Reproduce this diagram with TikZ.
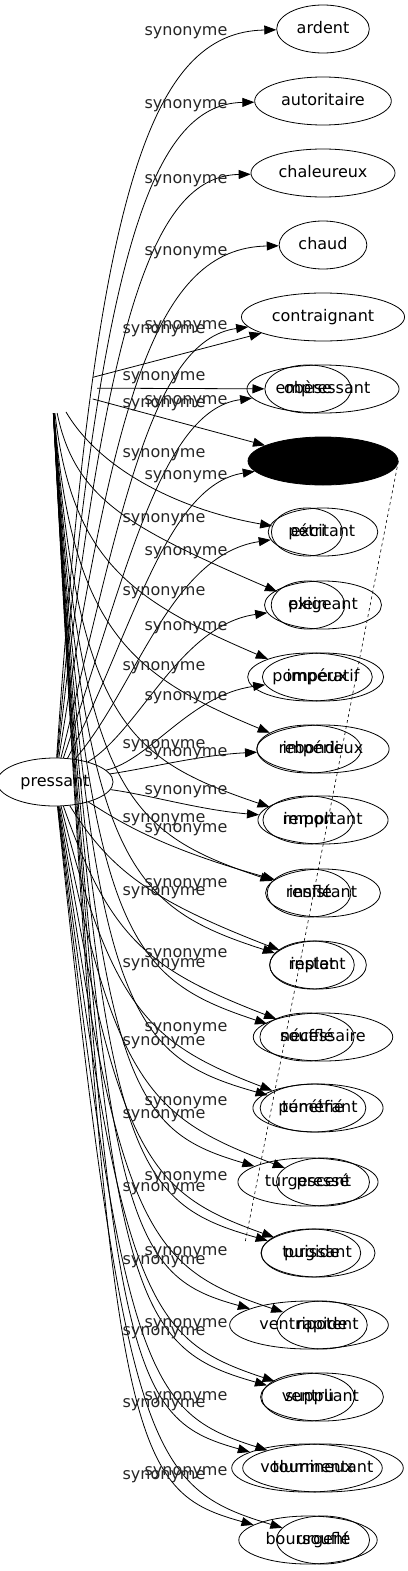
\documentclass[tikz,border=0pt]{standalone}
\usepackage{fontspec}
\setmainfont{DejaVu Sans}
\usetikzlibrary{shapes.geometric, arrows.meta}

\begin{document}
\begin{tikzpicture}[x=1pt, y=-1pt, every node/.style={font=\fontsize{16}{19}\selectfont},
  word/.style={draw, ellipse, line width=0.8pt, minimum height=48pt, inner xsep=6.5pt, inner ysep=2pt,
    text height=12pt, text depth=3.5pt},
  syn/.style={line width=0.8pt, -{Triangle[length=12pt, width=9pt]}},
  lbl/.style={inner sep=0pt, text=black!85}]
  \useasboundingbox (0,0) rectangle (407,1571);
  % sources
  \node[word] (pressant) at (55,782) {pressant};
  \node[ellipse, minimum width=90pt, minimum height=50pt] (src) at (52,388) {};
  % first column of words
  \node[word] (a1)  at (323,29)   {ardent};
  \node[word] (a2)  at (323,101)  {autoritaire};
  \node[word] (a3)  at (323,173)  {chaleureux};
  \node[word] (a4)  at (323,245)  {chaud};
  \node[word] (a5)  at (323,317)  {contraignant};
  \node[word] (a6)  at (323,389)  {empressant};
  \node[word, fill=black, minimum width=150pt] (a7) at (323,461) {};
  \node[word] (a8)  at (323,532)  {excitant};
  \node[word] (a9)  at (323,605)  {exigeant};
  \node[word] (a10) at (323,677)  {impératif};
  \node[word] (a11) at (323,749)  {impérieux};
  \node[word] (a12) at (323,820)  {important};
  \node[word] (a13) at (323,893)  {insistant};
  \node[word] (a14) at (318,965)  {instant};
  \node[word] (a15) at (323,1037) {nécessaire};
  \node[word] (a16) at (318,1108) {pénétrant};
  \node[word] (a17) at (323,1182) {pressé};
  \node[word] (a18) at (318,1253) {puissant};
  \node[word] (a19) at (322,1325) {rapide};
  \node[word] (a20) at (322,1397) {suppliant};
  \node[word] (a21) at (323,1468) {tourmentant};
  \node[word] (a22) at (323,1540) {urgent};
  % second column of words
  \node[word] (b6)  at (308,389)  {obèse};
  \node[word] (b8)  at (307,532)  {pétri};
  \node[word] (b9)  at (308,605)  {plein};
  \node[word] (b10) at (310,677)  {pompeux};
  \node[word] (b11) at (309,749)  {rebondi};
  \node[word] (b12) at (308,820)  {rempli};
  \node[word] (b13) at (309,893)  {renflé};
  \node[word] (b14) at (312,965)  {replet};
  \node[word] (b15) at (307,1037) {soufflé};
  \node[word] (b16) at (313,1108) {tuméfié};
  \node[word] (b17) at (308,1182) {turgescent};
  \node[word] (b18) at (311,1253) {turgide};
  \node[word] (b19) at (309,1325) {ventripotent};
  \node[word] (b20) at (308,1397) {ventru};
  \node[word] (b21) at (307,1468) {volumineux};
  \node[word] (b22) at (308,1540) {boursouflé};
  % edges from pressant
  \draw[syn] (pressant) .. controls (95,190) and (150,32) .. (a1);
  \draw[syn] (pressant) .. controls (100,260) and (150,104) .. (a2);
  \draw[syn] (pressant) .. controls (105,330) and (150,176) .. (a3);
  \draw[syn] (pressant) .. controls (115,400) and (155,248) .. (a4);
  \draw[syn] (pressant) .. controls (120,520) and (150,340) .. (a5);
  \draw[syn] (pressant) .. controls (125,580) and (160,410) .. (a6);
  \draw[syn] (pressant) .. controls (130,640) and (165,485) .. (a7);
  \draw[syn] (pressant) .. controls (135,690) and (170,555) .. (a8);
  \draw[syn] (pressant) .. controls (140,730) and (180,625) .. (a9);
  \draw[syn] (pressant) .. controls (150,760) and (190,695) .. (a10);
  \draw[syn] (pressant) .. controls (150,768) and (200,755) .. (a11);
  \draw[syn] (pressant) .. controls (150,795) and (200,810) .. (a12);
  \draw[syn] (pressant) .. controls (110,815) and (150,845) .. (a13);
  \draw[syn] (pressant) .. controls (110,870) and (150,900) .. (a14);
  \draw[syn] (pressant) .. controls (110,940) and (150,970) .. (a15);
  \draw[syn] (pressant) .. controls (112,1010) and (150,1044) .. (a16);
  \draw[syn] (pressant) .. controls (114,1085) and (150,1118) .. (a17);
  \draw[syn] (pressant) .. controls (116,1160) and (150,1193) .. (a18);
  \draw[syn] (pressant) .. controls (118,1235) and (150,1268) .. (a19);
  \draw[syn] (pressant) .. controls (120,1305) and (150,1340) .. (a20);
  \draw[syn] (pressant) .. controls (122,1380) and (150,1413) .. (a21);
  \draw[syn] (pressant) .. controls (124,1455) and (150,1488) .. (a22);
  % edges from the hidden source
  \draw[syn] (src) -- (a5);
  \draw[syn] (src) -- (b6);
  \draw[syn] (src) -- (a7);
  \draw[syn] (src) .. controls (100,470) and (180,510) .. (b8);
  \draw[syn] (src) .. controls (75,500) and (130,528) .. (b9);
  \draw[syn] (src) .. controls (72,560) and (130,600) .. (b10);
  \draw[syn] (src) .. controls (72,630) and (130,675) .. (b11);
  \draw[syn] (src) .. controls (78,720) and (125,758) .. (b12);
  \draw[syn] (src) .. controls (81,790) and (125,832) .. (b13);
  \draw[syn] (src) .. controls (84,860) and (125,905) .. (b14);
  \draw[syn] (src) .. controls (87,935) and (125,977) .. (b15);
  \draw[syn] (src) .. controls (90,1010) and (125,1055) .. (b16);
  \draw[syn] (src) .. controls (93,1085) and (125,1128) .. (b17);
  \draw[syn] (src) .. controls (96,1160) and (125,1200) .. (b18);
  \draw[syn] (src) .. controls (99,1230) and (125,1274) .. (b19);
  \draw[syn] (src) .. controls (102,1300) and (125,1345) .. (b20);
  \draw[syn] (src) .. controls (105,1375) and (125,1417) .. (b21);
  \draw[syn] (src) .. controls (108,1450) and (125,1489) .. (b22);
  % dashed link
  \coordinate (dashend) at (245,1243);
  \draw[line width=0.6pt, dash pattern=on 3pt off 3pt] (a7.east) -- (dashend);
  % labels, first set
  \node[lbl] (la1)  at (186,33)   {synonyme};
  \node[lbl] (la2)  at (186,106)  {synonyme};
  \node[lbl] (la3)  at (186,181)  {synonyme};
  \node[lbl] (la4)  at (186,253)  {synonyme};
  \node[lbl] (la5)  at (186,327)  {synonyme};
  \node[lbl] (la6)  at (186,402)  {synonyme};
  \node[lbl] (la7)  at (186,477)  {synonyme};
  \node[lbl] (la8)  at (186,553)  {synonyme};
  \node[lbl] (la9)  at (186,628)  {synonyme};
  \node[lbl] (la10) at (186,698)  {synonyme};
  \node[lbl] (la11) at (186,754)  {synonyme};
  \node[lbl] (la12) at (186,792)  {synonyme};
  \node[lbl] (la13) at (186,830)  {synonyme};
  \node[lbl] (la14) at (186,885)  {synonyme};
  \node[lbl] (la15) at (186,955)  {synonyme};
  \node[lbl] (la16) at (186,1029) {synonyme};
  \node[lbl] (la17) at (186,1103) {synonyme};
  \node[lbl] (la18) at (186,1178) {synonyme};
  \node[lbl] (la19) at (186,1253) {synonyme};
  \node[lbl] (la20) at (186,1325) {synonyme};
  \node[lbl] (la21) at (186,1398) {synonyme};
  \node[lbl] (la22) at (186,1473) {synonyme};
  % labels, second set
  \node[lbl] (lb5)  at (164,331)  {synonyme};
  \node[lbl] (lb6)  at (164,378)  {synonyme};
  \node[lbl] (lb7)  at (164,405)  {synonyme};
  \node[lbl] (lb8)  at (164,455)  {synonyme};
  \node[lbl] (lb9)  at (164,520)  {synonyme};
  \node[lbl] (lb10) at (164,593)  {synonyme};
  \node[lbl] (lb11) at (164,668)  {synonyme};
  \node[lbl] (lb12) at (164,746)  {synonyme};
  \node[lbl] (lb13) at (164,820)  {synonyme};
  \node[lbl] (lb14) at (164,893)  {synonyme};
  \node[lbl] (lb15) at (164,965)  {synonyme};
  \node[lbl] (lb16) at (164,1043) {synonyme};
  \node[lbl] (lb17) at (164,1116) {synonyme};
  \node[lbl] (lb18) at (164,1189) {synonyme};
  \node[lbl] (lb19) at (164,1262) {synonyme};
  \node[lbl] (lb20) at (164,1333) {synonyme};
  \node[lbl] (lb21) at (164,1405) {synonyme};
  \node[lbl] (lb22) at (164,1477) {synonyme};
\end{tikzpicture}
\end{document}
